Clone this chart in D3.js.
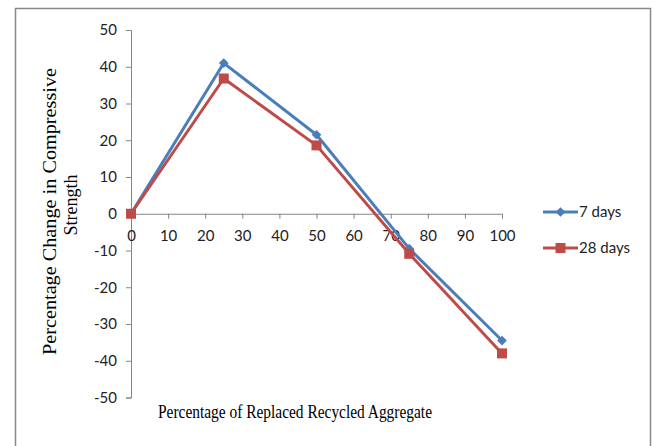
<!DOCTYPE html>
<html>
<head>
<meta charset="utf-8">
<script src="https://cdn.jsdelivr.net/npm/d3@7"></script>
<style>
  body { margin: 0; background: #fff; }
  .tick text { font-family: Lato, "Open Sans", sans-serif; font-size: 15px; fill: #222; }
  .axis-title { font-family: "Liberation Serif", "Times New Roman", serif; font-size: 19px; fill: #000; }
</style>
</head>
<body>
<script>
// data
var replaced = [0, 25, 50, 75, 100];
var days7 = [0, 41, 21.5, -9.5, -34.5];
var days28 = [0, 36.8, 18.6, -10.9, -38];
var seriesNames = ["7 days", "28 days"];
var xTicks = [0, 10, 20, 30, 40, 50, 60, 70, 80, 90, 100];
var yTicks = [50, 40, 30, 20, 10, 0, -10, -20, -30, -40, -50];

var width = 654, height = 446;

var svg = d3.select("body").append("svg")
  .attr("width", width)
  .attr("height", height);

// chart frame
svg.append("rect")
  .attr("x", 15.5).attr("y", 8.5)
  .attr("width", 635).attr("height", 445)
  .attr("fill", "#fff")
  .attr("stroke", "#888").attr("stroke-width", 1.5);

var x = d3.scaleLinear().domain([0, 100]).range([131, 502]);
var y = d3.scaleLinear().domain([-50, 50]).range([397.5, 30]);

// plain hyphen for negatives, like the original
var fmt = function(d) { return String(d); };

// y axis
var yAxis = svg.append("g")
  .attr("transform", "translate(" + x(0) + ",0)")
  .call(d3.axisLeft(y).tickValues(yTicks).tickFormat(fmt).tickSize(5).tickPadding(8));
// x axis through zero
var xAxis = svg.append("g")
  .attr("transform", "translate(0," + y(0) + ")")
  .call(d3.axisBottom(x).tickValues(xTicks).tickFormat(fmt).tickSize(5).tickPadding(12));

[yAxis, xAxis].forEach(function(g) {
  g.select(".domain").attr("stroke", "#868686");
  g.selectAll(".tick line").attr("stroke", "#868686");
});
yAxis.selectAll(".tick text").attr("dx", "-1");

var series = [
  {name: seriesNames[0], values: days7, color: "#4a7ebb", marker: "diamond"},
  {name: seriesNames[1], values: days28, color: "#be4b48", marker: "square"}
];

var line = d3.line()
  .x(function(d, i) { return x(replaced[i]); })
  .y(function(d) { return y(d); });

function drawMarker(g, type, cx, cy, color) {
  if (type === "square") {
    g.append("rect")
      .attr("x", cx - 5).attr("y", cy - 5)
      .attr("width", 10).attr("height", 10)
      .attr("fill", color);
  } else {
    g.append("path")
      .attr("d", d3.symbol().type(d3.symbolDiamond2).size(60)())
      .attr("transform", "translate(" + cx + "," + cy + ")")
      .attr("fill", color);
  }
}

series.forEach(function(s) {
  svg.append("path")
    .datum(s.values)
    .attr("d", line)
    .attr("fill", "none")
    .attr("stroke", s.color)
    .attr("stroke-width", 3)
    .attr("stroke-linejoin", "round");
  var mg = svg.append("g");
  s.values.forEach(function(v, i) {
    drawMarker(mg, s.marker, x(replaced[i]), y(v), s.color);
  });
});

// legend
var legend = svg.append("g");
series.forEach(function(s, i) {
  var ly = 212 + i * 36;
  legend.append("line")
    .attr("x1", 543).attr("x2", 578)
    .attr("y1", ly).attr("y2", ly)
    .attr("stroke", s.color).attr("stroke-width", 3);
  drawMarker(legend, s.marker, 560.5, ly, s.color);
  legend.append("text")
    .attr("x", 579).attr("y", ly + 5)
    .attr("font-family", "Lato, 'Open Sans', sans-serif")
    .attr("font-size", "15px")
    .attr("fill", "#222")
    .text(s.name);
});

// axis titles (the original font is a narrow Times, so fit to measured widths)
svg.append("text")
  .attr("class", "axis-title")
  .attr("x", 158).attr("y", 418)
  .attr("textLength", 274)
  .attr("lengthAdjust", "spacingAndGlyphs")
  .text("Percentage of Replaced Recycled Aggregate");

var yt = svg.append("g")
  .attr("transform", "rotate(-90)");
yt.append("text")
  .attr("class", "axis-title")
  .attr("x", -355).attr("y", 56)
  .attr("textLength", 287)
  .attr("lengthAdjust", "spacingAndGlyphs")
  .text("Percentage Change in Compressive");
yt.append("text")
  .attr("class", "axis-title")
  .attr("text-anchor", "middle")
  .style("font-size", "18px")
  .attr("x", -205).attr("y", 77)
  .text("Strength");
</script>
</body>
</html>
